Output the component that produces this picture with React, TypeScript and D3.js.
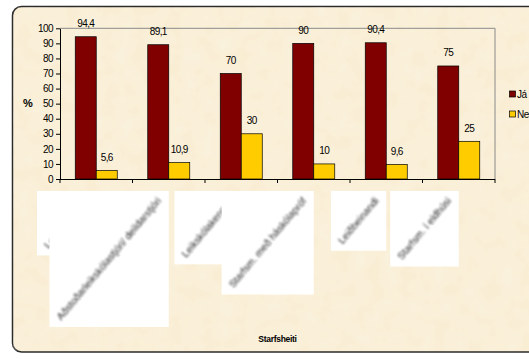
import React, { useEffect, useRef } from "react";
import * as d3 from "d3";

const categories = [
  "Leikskólastjóri",
  "Aðstoðarleikskólastjóri/ deildarstjóri",
  "Leikskólakennari",
  "Starfsm. með háskólapróf",
  "Leiðbeinandi",
  "Starfsm. í eldhúsi",
];
const seriesNames = ["Já", "Nei"];
const jaValues = [94.4, 89.1, 70, 90, 90.4, 75];
const neiValues = [5.6, 10.9, 30, 10, 9.6, 25];
const yTicks = [0, 10, 20, 30, 40, 50, 60, 70, 80, 90, 100];
const seriesColors = ["#800000", "#FFCC00"];

const fmt = (v: number) => String(v).replace(".", ",");

export default function App() {
  const ref = useRef<SVGSVGElement | null>(null);

  useEffect(() => {
    const svg = d3.select(ref.current);
    svg.selectAll("*").remove();

    const W = 529;
    const H = 359;
    const font = "'Liberation Sans', Arial, sans-serif";

    const defs = svg.append("defs");
    defs
      .append("filter")
      .attr("id", "soft")
      .attr("filterUnits", "userSpaceOnUse")
      .attr("x", 0)
      .attr("y", 0)
      .attr("width", W)
      .attr("height", H)
      .append("feGaussianBlur")
      .attr("stdDeviation", 1.05);

    const tex = defs
      .append("filter")
      .attr("id", "paper")
      .attr("x", 0)
      .attr("y", 0)
      .attr("width", "100%")
      .attr("height", "100%");
    tex
      .append("feTurbulence")
      .attr("type", "fractalNoise")
      .attr("baseFrequency", 0.06)
      .attr("numOctaves", 3)
      .attr("seed", 4)
      .attr("result", "noise");
    tex
      .append("feColorMatrix")
      .attr("in", "noise")
      .attr("type", "matrix")
      .attr(
        "values",
        "0 0 0 0 1  0 0 0 0 1  0 0 0 0 1  0 0 0 0.35 -0.05"
      );

    svg.append("rect").attr("width", W).attr("height", H).attr("fill", "#ffffff");

    // chart frame
    svg
      .append("rect")
      .attr("x", 12.5)
      .attr("y", 6.5)
      .attr("width", 540)
      .attr("height", 345.5)
      .attr("rx", 9)
      .attr("fill", "#F9EDD2")
      .attr("stroke", "#2b2b2b")
      .attr("stroke-width", 1.5);
    svg
      .append("rect")
      .attr("x", 13.5)
      .attr("y", 7.5)
      .attr("width", 530)
      .attr("height", 343)
      .attr("rx", 8)
      .attr("filter", "url(#paper)");

    const left = 60;
    const right = 495;
    const top = 28.3;
    const bottom = 179;

    const x = d3.scaleBand<string>().domain(categories).range([left, right]);
    const y = d3.scaleLinear().domain([0, 100]).range([bottom, top]);
    const barW = 21;

    // plot area outline (top and right)
    svg
      .append("path")
      .attr("d", `M${left},${top}H${right}V${bottom}`)
      .attr("fill", "none")
      .attr("stroke", "#8a8a8a")
      .attr("stroke-width", 1);

    // bars
    const series = [jaValues, neiValues];
    series.forEach((vals, si) => {
      svg
        .append("g")
        .selectAll("rect")
        .data(vals)
        .join("rect")
        .attr("x", (_, i) => x(categories[i])! + x.bandwidth() / 2 - barW + si * barW)
        .attr("y", (d) => y(d))
        .attr("width", barW)
        .attr("height", (d) => bottom - y(d))
        .attr("fill", seriesColors[si])
        .attr("stroke", "#000")
        .attr("stroke-width", 0.7);

      svg
        .append("g")
        .selectAll("text")
        .data(vals)
        .join("text")
        .attr("x", (_, i) => x(categories[i])! + x.bandwidth() / 2 - barW / 2 + si * barW)
        .attr("y", (d) => y(d) - 9.5)
        .attr("text-anchor", "middle")
        .attr("font-family", font)
        .attr("font-size", 10)
        .attr("letter-spacing", -0.6)
        .attr("fill", "#000")
        .text((d) => fmt(d));
    });

    // y axis
    const yAxis = svg
      .append("g")
      .attr("transform", `translate(${left},0)`)
      .call(d3.axisLeft(y).tickValues(yTicks).tickSize(4).tickSizeOuter(0));
    yAxis.select(".domain").attr("stroke", "#000");
    yAxis.selectAll(".tick line").attr("stroke", "#000");
    yAxis
      .selectAll(".tick text")
      .attr("font-family", font)
      .attr("font-size", 10)
      .attr("letter-spacing", -0.6)
      .attr("fill", "#000")
      .attr("x", -7);

    // x axis with ticks at band edges
    const xAxis = svg.append("g");
    xAxis
      .append("line")
      .attr("x1", left)
      .attr("x2", right)
      .attr("y1", bottom + 0.5)
      .attr("y2", bottom + 0.5)
      .attr("stroke", "#000");
    const edges = categories.map((c) => x(c)!).concat([right]);
    xAxis
      .selectAll("line.tk")
      .data(edges)
      .join("line")
      .attr("class", "tk")
      .attr("x1", (d) => d)
      .attr("x2", (d) => d)
      .attr("y1", bottom)
      .attr("y2", bottom + 4)
      .attr("stroke", "#000");

    // rotated category labels on white boxes
    categories.forEach((c) => {
      const cx = x(c)! + x.bandwidth() / 2;
      const g = svg.append("g");
      const box = g.append("rect").attr("fill", "#ffffff");
      const tg = g.append("g").attr("filter", "url(#soft)");
      tg.append("text")
        .attr("transform", `translate(${cx - 7},${201}) rotate(-50)`)
        .attr("text-anchor", "end")
        .attr("font-family", font)
        .attr("font-size", 10)
        .attr("fill", "#1e1e1e")
        .text(c);
      const bb = (tg.node() as SVGGElement).getBBox();
      box
        .attr("x", bb.x - 5)
        .attr("y", 191)
        .attr("width", cx - (bb.x - 5))
        .attr("height", bb.y + bb.height + 5 - 191);
    });

    // axis titles
    svg
      .append("text")
      .attr("x", 28)
      .attr("y", 107)
      .attr("text-anchor", "middle")
      .attr("font-family", font)
      .attr("font-weight", "bold")
      .attr("font-size", 11)
      .text("%");
    svg
      .append("text")
      .attr("x", (left + right) / 2)
      .attr("y", 342)
      .attr("text-anchor", "middle")
      .attr("font-family", font)
      .attr("font-weight", "bold")
      .attr("font-size", 8.5)
      .attr("letter-spacing", -0.3)
      .text("Starfsheiti");

    // legend
    const lg = svg.append("g").attr("transform", "translate(509,0)");
    seriesNames.forEach((n, i) => {
      const cy = 94 + i * 20;
      lg.append("rect")
        .attr("x", 0.5)
        .attr("y", cy - 3)
        .attr("width", 6)
        .attr("height", 6)
        .attr("fill", seriesColors[i])
        .attr("stroke", "#000")
        .attr("stroke-width", 0.7);
      lg.append("text")
        .attr("x", 8)
        .attr("y", cy + 3.5)
        .attr("font-family", font)
        .attr("font-size", 10)
        .attr("letter-spacing", -0.5)
        .text(n);
    });
  }, []);

  return (
    <svg
      ref={ref}
      width={529}
      height={359}
      style={{ position: "absolute", left: 0, top: 0, display: "block" }}
    />
  );
}
